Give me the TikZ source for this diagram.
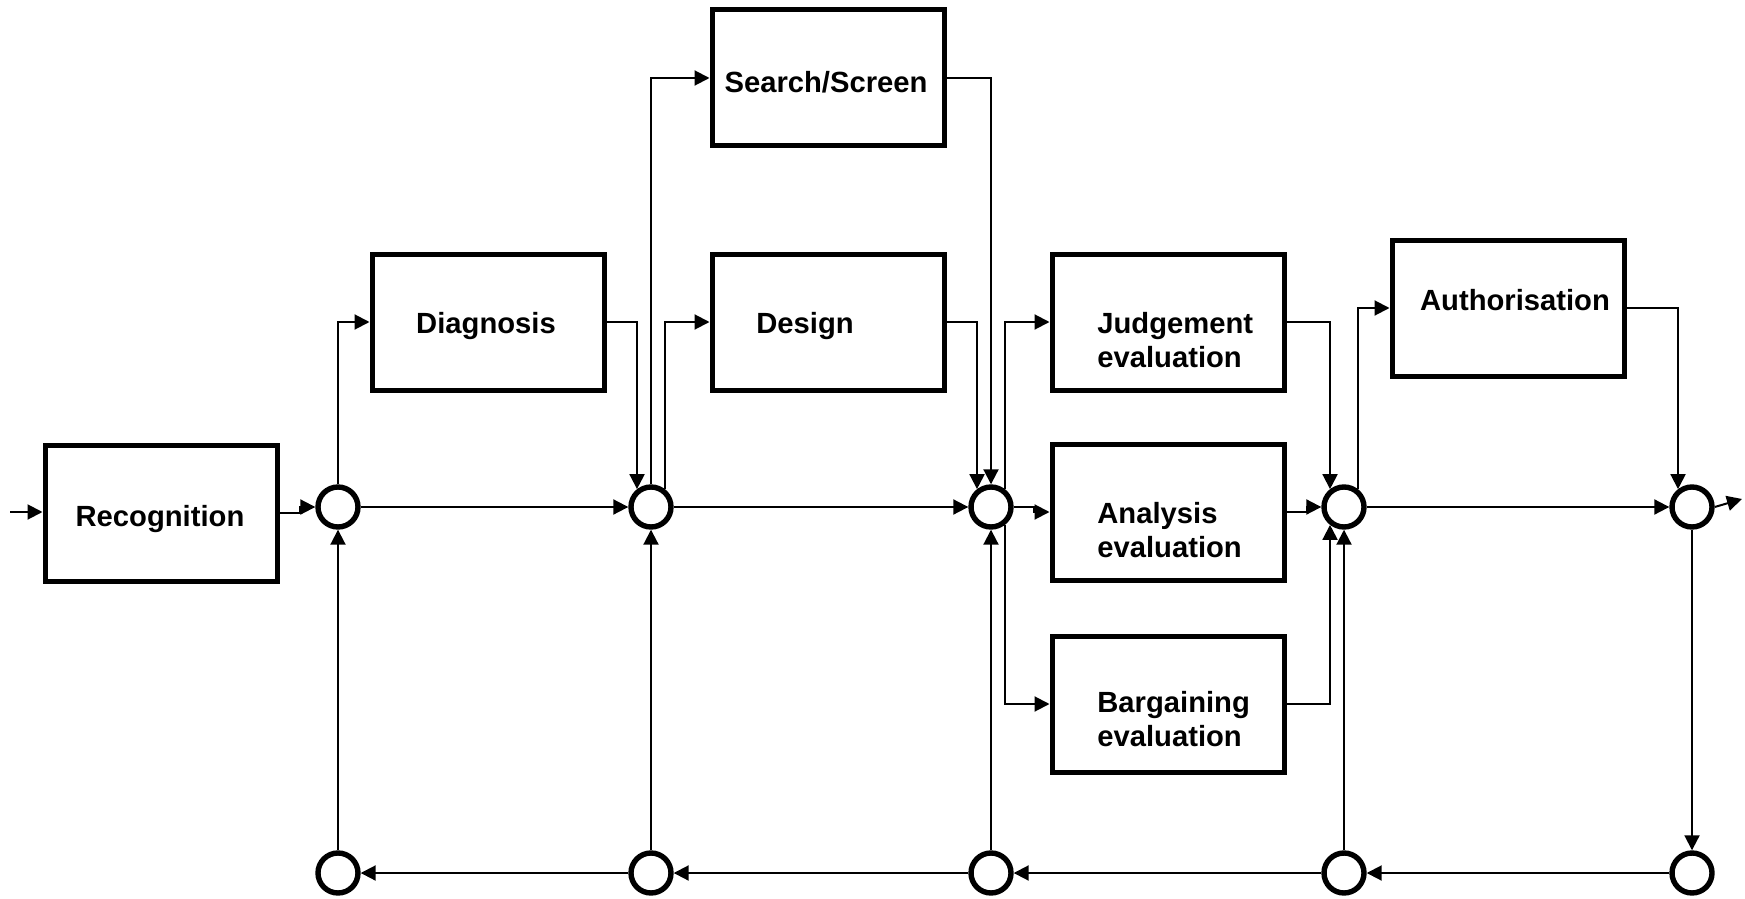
\documentclass[tikz,border=0pt]{standalone}
\usepackage{fontspec}
\setmainfont{Liberation Sans}
\usetikzlibrary{arrows.meta}
\begin{document}
\begin{tikzpicture}[x=0.5pt,y=-0.5pt,
  stage/.style={draw, line width=2.5pt, minimum width=116pt, minimum height=68pt, inner sep=0pt},
  junction/.style={draw, circle, line width=2.7pt, minimum size=20pt, inner sep=0pt, fill=white},
  stagetext/.style={font=\fontsize{14.6}{17}\selectfont\bfseries, inner sep=0pt, align=left, anchor=base},
  flow/.style={line width=1pt, -{Triangle[length=7.5pt,width=7.5pt]}}
]
\useasboundingbox (0,0) rectangle (1745,899);

% process stages
\node[stage] (rec)    at (161,513)  {};
\node[stage] (diag)   at (488,322)  {};
\node[stage] (search) at (828,78)   {};
\node[stage] (design) at (828,322)  {};
\node[stage] (judge)  at (1168,322) {};
\node[stage] (anal)   at (1168,512) {};
\node[stage] (barg)   at (1168,704) {};
\node[stage] (auth)   at (1508,308) {};

% stage captions (two-line captions are placed by their last baseline)
\node[stagetext] (rec-t)    at (160,526)  {Recognition};
\node[stagetext] (diag-t)   at (486,333)  {Diagnosis};
\node[stagetext] (search-t) at (826,93)   {Search/Screen};
\node[stagetext] (design-t) at (805,333)  {Design};
\node[stagetext, anchor=base west] (judge-t) at (1097,367) {Judgement\\evaluation};
\node[stagetext, anchor=base west] (anal-t)  at (1097,557) {Analysis\\evaluation};
\node[stagetext, anchor=base west] (barg-t)  at (1097,746) {Bargaining\\evaluation};
\node[stagetext] (auth-t)   at (1515,310) {Authorisation};

% junctions: main line and feedback line
\node[junction] (c1) at (338,507) {};
\node[junction] (c2) at (651,507) {};
\node[junction] (c3) at (991,507) {};
\node[junction] (c4) at (1344,507) {};
\node[junction] (c5) at (1692,507) {};
\node[junction] (c1b) at (338,873) {};
\node[junction] (c2b) at (651,873) {};
\node[junction] (c3b) at (991,873) {};
\node[junction] (c4b) at (1344,873) {};
\node[junction] (c5b) at (1692,873) {};

\coordinate (in) at (10,512);
\coordinate (out) at (1742,499);

% input and recognition
\draw[flow] (in) -- (in -| rec.west);
\draw[flow] (rec.east) -- ++(20,0) |- (c1.west);

% diagnosis
\draw[flow] (c1.north) |- (diag.west);
\draw[flow] (c1.east) -- (c2.west);
\draw[flow] (diag.east) -| (c2.128);

% development
\draw[flow] (c2.north) |- (search.west);
\draw[flow] (c2.52) |- (design.west);
\draw[flow] (c2.east) -- (c3.west);
\draw[flow] (design.east) -| (c3.128);
\draw[flow] (search.east) -| (c3.north);

% selection
\draw[flow] (c3.52) |- (judge.west);
\draw[flow] (c3.east) -- ++(20,0) |- (anal.west);
\draw[flow] (c3.-52) |- (barg.west);
\draw[flow] (judge.east) -| (c4.128);
\draw[flow] (anal.east) -- ++(20,0) |- (c4.west);
\draw[flow] (barg.east) -| (c4.-128);

% authorisation
\draw[flow] (c4.52) |- (auth.west);
\draw[flow] (c4.east) -- (c5.west);
\draw[flow] (auth.east) -| (c5.128);
\draw[flow] (c5.east) -- (out);

% feedback loop
\draw[flow] (c5.south) -- (c5b.north);
\draw[flow] (c5b.west) -- (c4b.east);
\draw[flow] (c4b.west) -- (c3b.east);
\draw[flow] (c3b.west) -- (c2b.east);
\draw[flow] (c2b.west) -- (c1b.east);
\draw[flow] (c1b.north) -- (c1.south);
\draw[flow] (c2b.north) -- (c2.south);
\draw[flow] (c3b.north) -- (c3.south);
\draw[flow] (c4b.north) -- (c4.south);
\end{tikzpicture}
\end{document}
